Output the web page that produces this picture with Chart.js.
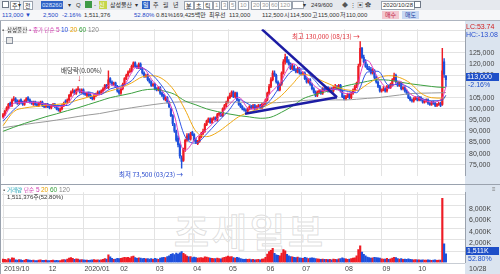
<!DOCTYPE html>
<html>
<head>
<meta charset="utf-8">
<script src="https://cdn.jsdelivr.net/npm/chart.js@4.4.1/dist/chart.umd.min.js"></script>
<style>
  body { margin: 0; width: 500px; height: 274px; overflow: hidden; background: #fff; position: relative;
         font-family: "Liberation Sans", "Noto Sans CJK KR", sans-serif; }
  .t { position: absolute; white-space: nowrap; font-size: 6px; line-height: 8px; color: #333; }
  .n { font-size: 6.5px; }
  .k { font-family: "Noto Sans CJK KR", sans-serif; font-size: 6px; }
  .box { border: 1px solid #9aa2ae; background: #fff; padding: 0 1px; line-height: 7px; }
  #row1 { position: absolute; left: 0; top: 0; width: 500px; height: 10px; background: #e6e9ee; border-bottom: 1px solid #c2c7cf; }
  #row2 { position: absolute; left: 0; top: 10px; width: 500px; height: 10px; background: #f6f7f9; border-bottom: 1px solid #aeb5c0; }
  #axisbg { position: absolute; left: 465px; top: 21px; width: 35px; height: 253px; background: #dbe4ef; }
  #frame { position: absolute; left: 0; top: 21px; width: 1px; height: 253px; background: #9aa2ae; }
  canvas { position: absolute; left: 0; }
  #sep1 { position: absolute; left: 0; top: 184px; width: 500px; height: 1px; background: #9aa2ae; }
  #sep2 { position: absolute; left: 0; top: 263px; width: 465px; height: 1px; background: #c8cdd4; }
  #wm { position: absolute; left: 174px; top: 202px; font-family: "Noto Sans CJK KR", sans-serif; font-size: 38px; font-weight: bold;
        color: rgba(255,255,255,0.5); -webkit-text-stroke: 1px rgba(160,160,160,0.35); letter-spacing: 3px; }
  .ax { font-size: 7px; background: #dbe4ef; }
</style>
</head>
<body>
<div id="row1"></div>
<div id="row2"></div>
<div id="axisbg"></div>
<div id="frame"></div>

<!-- toolbar, row 1 -->
<div class="t" style="left:2px;top:1px;width:5px;height:5px;border:1px solid #6f7886;background:#fff"></div>
<span class="t k box" style="left:10px;top:1px">주</span>
<span class="t" style="left:18px;top:1px">▾</span>
<span class="t k box" style="left:23px;top:1px">전</span>
<span class="t" style="left:41px;top:1px;width:21px;background:#2f63c6;color:#dfe8ff;padding-left:1px">028260</span>
<span class="t" style="left:68px;top:1px">▾</span>
<span class="t" style="left:76px;top:1px">Q</span>
<span class="t" style="left:85px;top:1px;width:7px;height:7px;background:#3d9a46"></span>
<span class="t" style="left:94px;top:1px">-</span>
<span class="t k" style="left:99px;top:1px;width:8px;height:8px;background:#c5d64a;color:#fff">신</span>
<span class="t k" style="left:110px;top:1px">삼성물산</span>
<span class="t" style="left:135px;top:1px">▾</span>
<span class="t k" style="left:142px;top:1px;background:#2f63c6;color:#fff;padding:0 1px">일</span>
<span class="t k" style="left:153px;top:1px">주</span>
<span class="t k" style="left:163px;top:1px">월</span>
<span class="t k" style="left:173px;top:1px">년</span>
<span class="t k box" style="left:184px;top:1px">분</span>
<span class="t k box" style="left:194px;top:1px">초</span>
<span class="t k box" style="left:203px;top:1px">틱</span>
<span class="t box" style="left:213px;top:1px;color:#999">1</span>
<span class="t box" style="left:221px;top:1px;color:#999">3</span>
<span class="t box" style="left:229px;top:1px;color:#999">5</span>
<span class="t box" style="left:238px;top:1px;color:#999">10</span>
<span class="t box" style="left:251px;top:1px;color:#999">20</span>
<span class="t box" style="left:260px;top:1px;color:#999">30</span>
<span class="t box" style="left:269px;top:1px;color:#999">60</span>
<span class="t box" style="left:278px;top:1px;color:#999">120</span>
<span class="t box" style="left:292px;top:1px;width:8px;height:6px"></span>
<span class="t" style="left:303px;top:1px">▾</span>
<span class="t" style="left:311px;top:1px">249/600</span>
<span class="t" style="left:342px;top:1px;color:#555">◆ ⋮ ▣ ✿</span>
<span class="t box" style="left:381px;top:1px">2020/10/28</span>
<span class="t" style="left:414px;top:1px;width:5px;height:5px;border:1px solid #6f7886;background:#fff"></span>

<!-- toolbar, row 2 -->
<span class="t" style="left:2px;top:11px;color:#1d48c8">113,000 ▼</span>
<span class="t" style="left:43px;top:11px;color:#1d48c8">2,500</span>
<span class="t" style="left:62px;top:11px;color:#1d48c8">-2.16%</span>
<span class="t" style="left:84px;top:11px">1,511,376</span>
<span class="t" style="left:134px;top:11px;color:#1d48c8">52.80%</span>
<span class="t" style="left:156px;top:11px">0.81%</span>
<span class="t" style="left:173px;top:11px">169,425<span class="k">백만</span></span>
<span class="t k" style="left:209px;top:11px">최우선</span>
<span class="t" style="left:229px;top:11px">113,000</span>
<span class="t" style="left:262px;top:11px">112,500</span>
<span class="t k" style="left:284px;top:11px">시</span>
<span class="t" style="left:290px;top:11px">114,500</span>
<span class="t k" style="left:312px;top:11px">고</span>
<span class="t" style="left:318px;top:11px">115,000</span>
<span class="t k" style="left:340px;top:11px">저</span>
<span class="t" style="left:346px;top:11px">110,000</span>
<span class="t k" style="left:382px;top:11px;background:#f3c8d0;color:#c02040;padding:0 3px">매수</span>
<span class="t k" style="left:402px;top:11px;background:#c8d8f3;color:#2040a0;padding:0 3px">매도</span>

<canvas id="priceChart" width="500" height="163" style="top:21px"></canvas>
<div id="sep1"></div>
<div id="wm">조세일보</div>
<canvas id="volChart" width="500" height="90" style="top:184px"></canvas>
<div id="sep2"></div>

<!-- price pane legend and notes -->
<span class="t" style="left:2px;top:26px;color:#666">▪</span>
<span class="t k" style="left:7px;top:26px;background:#f2f2f2;font-size:5.5px">삼성물산</span>
<span class="t" style="left:29px;top:26px;color:#c84ab4">▪</span>
<span class="t k" style="left:33px;top:26px;color:#d040b0;font-size:5.5px">종가 단순</span>
<span class="t n" style="left:56px;top:26px;color:#d040b0">5</span>
<span class="t n" style="left:61px;top:26px;color:#2850e0">10</span>
<span class="t n" style="left:70px;top:26px;color:#e8a000">20</span>
<span class="t n" style="left:79px;top:26px;color:#36a03c">60</span>
<span class="t n" style="left:88px;top:26px;color:#888">120</span>
<div class="t" style="left:6px;top:37px;width:5px;height:5px;border:1px solid #8a929e;background:#e8e8e8"></div>

<span class="t k" style="left:61px;top:66px;font-size:6.5px">배당락(0.00%)</span>
<span class="t" style="left:77px;top:74px;color:#e02030;font-size:9px">↓</span>
<span class="t k" style="left:292px;top:32px;color:#e0303a;font-size:6.5px">최고 130,000 (08/13) →</span>
<span class="t k" style="left:119px;top:170px;color:#2244cc;font-size:6.5px">최저 73,500 (03/23) →</span>

<!-- volume pane legend -->
<span class="t" style="left:3px;top:186px;color:#666">▪</span>
<span class="t k" style="left:7px;top:186px;color:#1aa0b4;font-size:5.5px">거래량</span>
<span class="t k" style="left:24px;top:186px;color:#d040b0;font-size:5.5px">단순</span>
<span class="t n" style="left:36px;top:186px;color:#d040b0">5</span>
<span class="t n" style="left:41px;top:186px;color:#e8a000">20</span>
<span class="t n" style="left:50px;top:186px;color:#36a03c">60</span>
<span class="t n" style="left:59px;top:186px;color:#888">120</span>
<span class="t" style="left:7px;top:193px">1,511,376<span class="k">주</span>(52.80%)</span>

<!-- right axis panel notes -->
<span class="t ax" style="left:466px;top:23px;color:#d02020">LC:53.74</span>
<span class="t ax" style="left:466px;top:31px;color:#2850d0">HC:-13.08</span>
<span class="t ax" style="left:466px;top:73px;width:32px;background:#1e4fc8;color:#fff;padding-left:1px">113,000</span>
<span class="t ax" style="left:466px;top:81px;width:30px;color:#1e4fc8;padding-left:2px">-2.16%</span>
<span class="t" style="left:492px;top:185px;color:#777">≡</span>
<span class="t ax" style="left:466px;top:247px;width:32px;background:#1e4fc8;color:#fff;padding-left:1px">1,511K</span>
<span class="t ax" style="left:466px;top:255px;width:30px;color:#1e4fc8;padding-left:2px">52.80%</span>
<span class="t ax" style="left:469px;top:265px;color:#444">10/28</span>

<script>
// 일봉 (천원 단위), 2019/10/28 ~ 2020/10/28
const opens = [
  96.5, 97.5, 99.5, 100.5, 102.5, 101.5, 104, 104.5, 103.5, 102.5,
  104, 103, 102, 103.5, 105, 104, 103, 102, 103, 102,
  101.5, 102.5, 103, 101.5, 101, 102, 101, 100.5, 101.5, 102,
  101, 100, 99, 100, 101.5, 103.5, 103, 104, 106, 107.5,
  108, 107, 108.5, 108, 107.5, 108.5, 107, 106, 107, 106,
  105, 104.5, 106, 106.5, 107.5, 107, 108, 109, 110.5, 109.5,
  113.5, 112, 111, 111.5, 110, 108, 107, 109, 111, 113.5,
  115, 116.5, 117, 119, 120.5, 119, 118.5, 120, 118, 116,
  114.5, 115, 113, 112, 110.5, 111, 109, 108.5, 109.5, 107,
  106, 104, 105, 103, 100, 97, 93, 90, 87, 84,
  78, 77, 82, 86, 88.5, 86.5, 89.5, 88.5, 86, 84.5,
  85.5, 87.5, 89, 90, 93, 94.5, 95.5, 94, 95.5, 96,
  95, 97.5, 98, 97, 100, 101.5, 103, 105, 106, 107.5,
  105.5, 107, 104, 102, 101, 100, 99.5, 99, 100, 101,
  100.5, 101.5, 100, 101, 101.5, 100.5, 102, 102.5, 104, 107,
  110, 113, 116, 115, 112, 108.5, 111, 116, 121, 123,
  121, 120, 118, 119, 117.5, 116.5, 118, 116, 115.5, 116,
  113.5, 112, 113, 111, 109, 107.5, 106, 107.5, 108, 107,
  109, 108.5, 109.5, 108, 109, 108, 109.5, 110, 109, 110.5,
  108, 105.5, 104.5, 105.5, 106.5, 105, 107, 108.5, 110, 111.5,
  119.5, 127, 123, 121, 119, 118, 117.5, 116, 117, 114,
  112, 110, 108, 108.5, 109, 108, 110, 109.5, 111, 113,
  115, 112, 110.5, 111.5, 109, 109.5, 108, 107, 105, 104,
  103.5, 104.5, 105, 104, 105, 104, 103, 103.5, 104, 102.5,
  102, 103, 102.5, 101.5, 102, 102.5, 102, 121, 114.5
];
const closes = [
  97.5, 99, 100.5, 102, 101.5, 104, 104.5, 103, 102.5, 103.5,
  103, 102, 103.5, 104.5, 104, 103, 102.5, 103, 102, 101.5,
  102.5, 103, 101.5, 101, 102, 101, 100.5, 101.5, 102, 101,
  100, 99.5, 100, 101.5, 102.5, 103, 104, 106, 107.5, 108,
  107, 108.5, 109, 107.5, 108.5, 107, 106.5, 107, 106, 105,
  104.5, 106, 106.5, 107.5, 107, 108, 109, 110.5, 109.5, 113,
  112, 111, 111.5, 110, 108, 107, 109, 111, 113.5, 115,
  116.5, 117, 119, 120.5, 119, 118.5, 120, 118, 116, 114.5,
  115, 113, 112, 110.5, 111, 109, 108.5, 109.5, 107, 106,
  104.5, 105, 103, 101, 97, 93.5, 90, 86, 84, 79,
  76.5, 82, 86, 88, 86.5, 89, 88.5, 86, 85, 85.5,
  87.5, 89, 90, 93, 94.5, 95.5, 94, 95.5, 96, 95,
  97.5, 98, 97, 100, 101.5, 103, 105, 106, 107.5, 105.5,
  107, 104, 102, 101, 100, 99.5, 99, 100, 101, 100.5,
  101.5, 100, 101, 101.5, 100.5, 102, 102.5, 104, 107, 110,
  113, 116, 115, 112, 108.5, 111, 116, 121, 123, 121,
  120, 118, 119, 117.5, 116.5, 118, 116, 115.5, 116, 113.5,
  112, 113, 111, 109, 107.5, 106, 107.5, 108, 107, 109,
  108.5, 109.5, 108, 109, 108, 109.5, 110, 109, 110.5, 108,
  105.5, 104.5, 105.5, 106.5, 105, 107, 108.5, 110, 111.5, 119,
  127, 123, 121, 119, 118, 117.5, 116, 117, 114, 112,
  110, 108, 108.5, 109, 108, 110, 109.5, 111, 113, 115,
  112, 110.5, 111.5, 109, 109.5, 108, 107, 105, 104, 103.5,
  104.5, 105, 104, 105, 104, 103, 103.5, 104, 102.5, 102,
  103, 102.5, 101.5, 102, 102.5, 101.5, 117, 115.5, 113
];
const highs = [
  98, 99.5, 101, 102.5, 103, 104.5, 105.5, 105, 104, 104,
  104.5, 103.5, 104, 105, 105.5, 104.5, 103.5, 103.5, 103.5, 102.5,
  103, 103.5, 103.5, 102, 102.5, 102.5, 101.5, 102, 102.5, 102.5,
  101.5, 100.5, 100.5, 102, 103, 104, 104.5, 106.5, 108, 109,
  108.5, 109, 110, 109, 109, 109, 107.5, 107.5, 107.5, 106.5,
  105.5, 106.5, 107, 108, 108, 108.5, 109.5, 111, 111, 117,
  114, 112.5, 112, 112, 110.5, 108.5, 109.5, 111.5, 114, 115.5,
  117, 118, 119.5, 121, 121, 119.5, 120.5, 120.5, 118.5, 116.5,
  115.5, 115.5, 113.5, 112.5, 111.5, 111.5, 109.5, 110, 110, 107.5,
  106.5, 105.5, 105.5, 103.5, 100.5, 97.5, 93.5, 90.5, 88, 84.5,
  79, 82.5, 86.5, 89, 89, 89.5, 90, 89, 87, 86,
  88, 89.5, 91, 93.5, 95, 96, 96, 96, 96.5, 96.5,
  98, 98.5, 98.5, 100.5, 102, 103.5, 105.5, 107, 108, 108,
  107.5, 107.5, 104.5, 102.5, 101.5, 100.5, 100, 100.5, 101.5, 101.5,
  102, 102, 101.5, 102, 102, 102.5, 103, 104.5, 107.5, 111,
  114, 117, 117, 115.5, 112.5, 111.5, 116.5, 122, 124.5, 123.5,
  122, 120.5, 120, 119.5, 118, 118.5, 118.5, 116.5, 116.5, 116.5,
  114, 113.5, 113.5, 111.5, 109.5, 108, 108, 108.5, 108.5, 109.5,
  109.5, 110, 110, 109.5, 109.5, 110, 111, 110.5, 111, 111,
  108.5, 106, 106, 107, 107, 107.5, 109, 110.5, 112, 120,
  130, 127.5, 124, 122, 120, 119, 118.5, 118, 117.5, 114.5,
  112.5, 110.5, 109, 110, 109.5, 110.5, 110.5, 111.5, 113.5, 116,
  115.5, 112.5, 112, 112, 110, 110, 108.5, 107.5, 105.5, 104.5,
  105, 105.5, 105.5, 105.5, 105.5, 104.5, 104, 104.5, 104.5, 103,
  103.5, 103.5, 103, 102.5, 103, 103, 127, 122.5, 115
];
const lows = [
  96, 97, 99, 100, 101, 101, 103.5, 102.5, 102, 102,
  102.5, 101.5, 101.5, 103, 103.5, 102.5, 102, 101.5, 101.5, 101,
  101, 102, 101, 100.5, 100.5, 100.5, 100, 100, 101, 100.5,
  99.5, 99, 98.5, 99.5, 101, 102.5, 102.5, 103.5, 105.5, 107,
  106.5, 106.5, 108, 107, 107, 106.5, 106, 105.5, 105.5, 104.5,
  104, 104, 105.5, 106, 106.5, 106.5, 107.5, 108.5, 109, 109,
  111.5, 110.5, 110.5, 109.5, 107.5, 106.5, 106.5, 108.5, 110.5, 113,
  114.5, 116, 116.5, 118.5, 118.5, 118, 118, 117.5, 115.5, 114,
  114, 112.5, 111.5, 110, 110, 108.5, 108, 108, 106.5, 105.5,
  104, 103.5, 102.5, 100.5, 96.5, 92.5, 89.5, 85.5, 83, 78,
  73.5, 76.5, 81, 85.5, 86, 86, 88, 85.5, 84.5, 84,
  85, 87, 88.5, 89.5, 92.5, 94, 93.5, 93.5, 95, 94.5,
  94.5, 97, 96.5, 96.5, 99.5, 101, 102.5, 104.5, 105.5, 105,
  105, 103.5, 101.5, 100.5, 99.5, 99, 98.5, 98.5, 99.5, 100,
  100, 99.5, 99.5, 100.5, 100, 100, 101.5, 102, 103.5, 106.5,
  109.5, 112.5, 114.5, 111.5, 108, 108, 110.5, 115.5, 120, 120.5,
  119.5, 117.5, 117.5, 117, 116, 116, 115.5, 115, 115, 113,
  111.5, 111.5, 110.5, 108.5, 107, 105.5, 105.5, 107, 106.5, 106.5,
  108, 108, 107.5, 107.5, 107.5, 107.5, 109, 108.5, 108.5, 107.5,
  105, 104, 104, 105, 104.5, 104.5, 106.5, 108, 109.5, 111,
  119, 122.5, 120.5, 118.5, 117.5, 117, 115.5, 115.5, 113.5, 111.5,
  109.5, 107.5, 107.5, 108, 107.5, 107.5, 109, 109, 110.5, 112.5,
  111.5, 110, 110, 108.5, 108.5, 107.5, 106.5, 104.5, 103.5, 103,
  103, 104, 103.5, 103.5, 103.5, 102.5, 102.5, 103, 102, 101.5,
  101.5, 102, 101, 101, 101.5, 101, 101.5, 114, 110
];
// 거래량 (천주)
const volumes = [
  620, 540, 480, 710, 520, 830, 760, 450, 410, 520,
  470, 390, 430, 560, 480, 420, 380, 410, 360, 350,
  420, 460, 390, 370, 410, 360, 330, 390, 420, 350,
  380, 340, 360, 450, 520, 480, 610, 780, 850, 720,
  560, 640, 590, 480, 520, 450, 410, 440, 390, 420,
  460, 510, 430, 470, 420, 490, 560, 680, 610, 1350,
  980, 720, 560, 610, 750, 680, 720, 840, 930, 870,
  910, 780, 1050, 1120, 860, 720, 810, 760, 690, 740,
  640, 700, 620, 690, 580, 720, 640, 580, 790, 850,
  920, 880, 1040, 1180, 1420, 1560, 1380, 1650, 1490, 1720,
  1930, 1610, 1380, 1120, 980, 1050, 860, 940, 880, 760,
  820, 880, 790, 1020, 950, 870, 760, 720, 680, 710,
  780, 690, 640, 830, 910, 1020, 1150, 980, 1060, 870,
  780, 920, 840, 690, 620, 580, 610, 540, 590, 520,
  560, 480, 510, 540, 470, 620, 660, 890, 1480, 1920,
  2150, 2480, 1620, 1350, 1280, 1190, 1650, 2260, 2050, 1430,
  1180, 1050, 980, 920, 860, 940, 820, 760, 730, 890,
  820, 710, 760, 840, 780, 690, 640, 590, 560, 620,
  540, 580, 520, 560, 490, 610, 580, 520, 640, 710,
  820, 690, 640, 580, 620, 710, 760, 830, 1160, 2280,
  2960, 1850, 1420, 1180, 960, 880, 790, 820, 910, 870,
  840, 760, 640, 590, 610, 720, 580, 640, 780, 920,
  860, 710, 620, 680, 540, 610, 580, 640, 560, 520,
  480, 510, 460, 490, 430, 470, 440, 410, 460, 430,
  390, 420, 450, 380, 410, 440, 11300, 3300, 1511
];

// 이동평균
const ma5Days = [0, 6, 12, 18, 24, 30, 36, 42, 48, 54, 60, 66, 72, 74, 78, 84, 90, 96, 100, 102,
  108, 114, 120, 126, 132, 138, 144, 150, 156, 158, 162, 168, 174, 180, 186, 192, 198, 200, 202, 204,
  210, 216, 222, 228, 234, 240, 246, 248];
const ma5 = [95.5, 102.5, 102.9, 102.9, 102, 101, 102.2, 108, 107, 106.3, 110.8, 109.1, 116.2, 118.4, 118.3, 112.3, 107.1, 96.9, 83.1, 81.5,
  87, 90.8, 95.6, 101.3, 105.2, 99.9, 100.9, 107.3, 112.5, 115.9, 120.2, 116.4, 110.5, 108, 108.9, 106.8, 108.4, 115.2, 120.3, 121.6,
  113.8, 109, 112.4, 106.7, 104.5, 103, 104.9, 109.9];
const maDays = [0, 6, 12, 18, 24, 30, 36, 42, 48, 54, 60, 66, 72, 78, 84, 90, 96, 102, 108, 114,
  120, 126, 132, 138, 144, 150, 156, 162, 168, 174, 180, 186, 192, 198, 204, 210, 216, 222, 228, 234,
  240, 246, 248];
const ma10 = [94.5, 99.6, 103, 103.1, 102.2, 101.5, 101.5, 105.7, 107.5, 106.3, 108.9, 110.2, 112.6, 118, 114.9, 109.1, 101.7, 87.5, 84.7, 88.8,
  94, 98.9, 104.2, 101.9, 100.5, 104.2, 111.3, 117, 117.8, 113.2, 108.7, 108.7, 108, 107.2, 116.4, 116.8, 110.6, 111, 109.2, 105,
  103.6, 103.9, 106.1];
const ma20 = [92.5, 98.8, 100.4, 101, 101.6, 102, 102.6, 104, 105.3, 106.5, 108, 109.5, 111.6, 114.3, 114.8, 113, 108, 99.5, 90, 87.6,
  89.5, 93, 96.5, 98.6, 100.2, 102.5, 106, 111, 115.5, 114.2, 112, 110, 108.5, 108.2, 111, 113.8, 114.8, 114, 111.5, 107,
  105, 104.8, 105.5];
const ma60 = [90, 91.8, 93.5, 95, 96.5, 97.8, 99.2, 100.5, 102, 103.5, 105, 106, 107, 108.3, 108.8, 108, 106.5, 103.5, 101.8, 100,
  98.8, 97.8, 97, 96.4, 95.8, 96.3, 98.5, 101.2, 104.5, 106.2, 107.5, 108.8, 110.3, 111.3, 112.3, 113, 112.8, 112, 111.2, 110.6,
  110, 109.6, 109.6];
const ma120 = [91.6, 92.3, 93, 93.7, 94.3, 95, 95.8, 96.6, 97.3, 97.9, 98.8, 99.7, 100.5, 101.2, 101.9, 102.5, 103, 103.1, 103.1, 103,
  103, 103, 103, 102.9, 102.8, 102.7, 102.9, 103.3, 103.7, 104, 104, 104, 104, 104.3, 104.7, 105, 105.6, 106.2, 106.8, 107,
  107.1, 107.2, 107.3];

// 추세선 두 개 (일 번호, 천원)
const downTrend = [{ x: 145, y: 135.5 }, { x: 187, y: 105.2 }];
const upTrend = [{ x: 135.5, y: 97.8 }, { x: 187, y: 105.2 }];

// 축 눈금
const monthTickDays = [0, 25, 45, 65, 85, 106, 126, 147, 167, 191, 212, 232];
const monthTickLabels = ["2019/10", "12", "2020/01", "02", "03", "04", "05", "06", "07", "08", "09", "10"];
const volumeTicks = [2000, 4000, 6000, 8000, 10000, 12000];

const UP = "#ee1c25";
const DOWN = "#1e50dc";
const GRID = "#e3e3e3";
const FONT = { family: "'Liberation Sans', sans-serif", size: 7 };

const candleColors = closes.map((c, i) => (c >= opens[i] ? UP : DOWN));
const toPoints = (days, vals) => days.map((d, i) => ({ x: d, y: vals[i] }));

function maLine(data, color) {
    return {
        type: "line", data: data, borderColor: color, borderWidth: 1,
        pointRadius: 0, cubicInterpolationMode: "monotone", fill: false
    };
}

const xMin = -0.6;
const xMax = 258.7;

function monthAxis(showLabels) {
    return {
        type: "linear", min: xMin, max: xMax, offset: false,
        afterBuildTicks: (scale) => { scale.ticks = monthTickDays.map(v => ({ value: v })); },
        afterFit: (scale) => { scale.height = showLabels ? 11.5 : 0; },
        grid: { color: GRID, drawTicks: false, offset: false },
        border: { display: false },
        ticks: {
            display: showLabels, autoSkip: false, maxRotation: 0, align: "start",
            padding: 2, labelOffset: 1, color: "#444", font: FONT,
            callback: (v, i) => monthTickLabels[i]
        }
    };
}

// 가격 차트
new Chart(document.getElementById("priceChart"), {
    type: "bar",
    data: {
        datasets: [
            { type: "line", data: downTrend, borderColor: "#1c1ca4", borderWidth: 2.5, pointRadius: 0 },
            { type: "line", data: upTrend, borderColor: "#1c1ca4", borderWidth: 2.5, pointRadius: 0 },
            maLine(toPoints(ma5Days, ma5), "#e040c0"),
            maLine(toPoints(maDays, ma10), "#2f55e6"),
            maLine(toPoints(maDays, ma20), "#f0a812"),
            maLine(toPoints(maDays, ma60), "#3ca040"),
            maLine(toPoints(maDays, ma120), "#9a9a9a"),
            {
                data: closes.map((c, i) => ({ x: i, y: [opens[i], c] })),
                backgroundColor: candleColors, barThickness: 1.5, minBarLength: 1, grouped: false
            },
            {
                data: highs.map((h, i) => ({ x: i, y: [lows[i], h] })),
                backgroundColor: candleColors, barThickness: 0.8, grouped: false
            }
        ]
    },
    options: {
        responsive: false, animation: false, devicePixelRatio: 1,
        layout: { padding: { left: 2, top: 1, right: 0, bottom: 1 } },
        plugins: { legend: { display: false }, tooltip: { enabled: false } },
        scales: {
            x: monthAxis(false),
            y: {
                position: "right", min: 70.12, max: 135.57,
                afterFit: (scale) => { scale.width = 35; },
                grid: { color: GRID, drawTicks: false },
                border: { color: "#9aa2ae" },
                ticks: {
                    stepSize: 5, includeBounds: false, padding: 4, color: "#444", font: FONT,
                    callback: (v) => (v >= 74 && v <= 126 ? Math.round(v * 1000).toLocaleString("en-US") : "")
                }
            }
        }
    }
});

// 거래량 차트
new Chart(document.getElementById("volChart"), {
    type: "bar",
    data: {
        datasets: [{
            data: volumes.map((v, i) => ({ x: i, y: v })),
            backgroundColor: candleColors, barThickness: 1.5, grouped: false
        }]
    },
    options: {
        responsive: false, animation: false, devicePixelRatio: 1,
        layout: { padding: { left: 2, top: 1, right: 0, bottom: 0 } },
        plugins: { legend: { display: false }, tooltip: { enabled: false } },
        scales: {
            x: monthAxis(true),
            y: {
                position: "right", min: 0, max: 12400,
                afterFit: (scale) => { scale.width = 35; },
                afterBuildTicks: (scale) => { scale.ticks = volumeTicks.map(v => ({ value: v })); },
                grid: { color: GRID, drawTicks: false },
                border: { color: "#9aa2ae" },
                ticks: {
                    padding: 4, labelOffset: -8, color: "#444", font: FONT,
                    callback: (v) => (v <= 8000 ? v.toLocaleString("en-US") + "K" : "")
                }
            }
        }
    }
});
</script>
</body>
</html>
